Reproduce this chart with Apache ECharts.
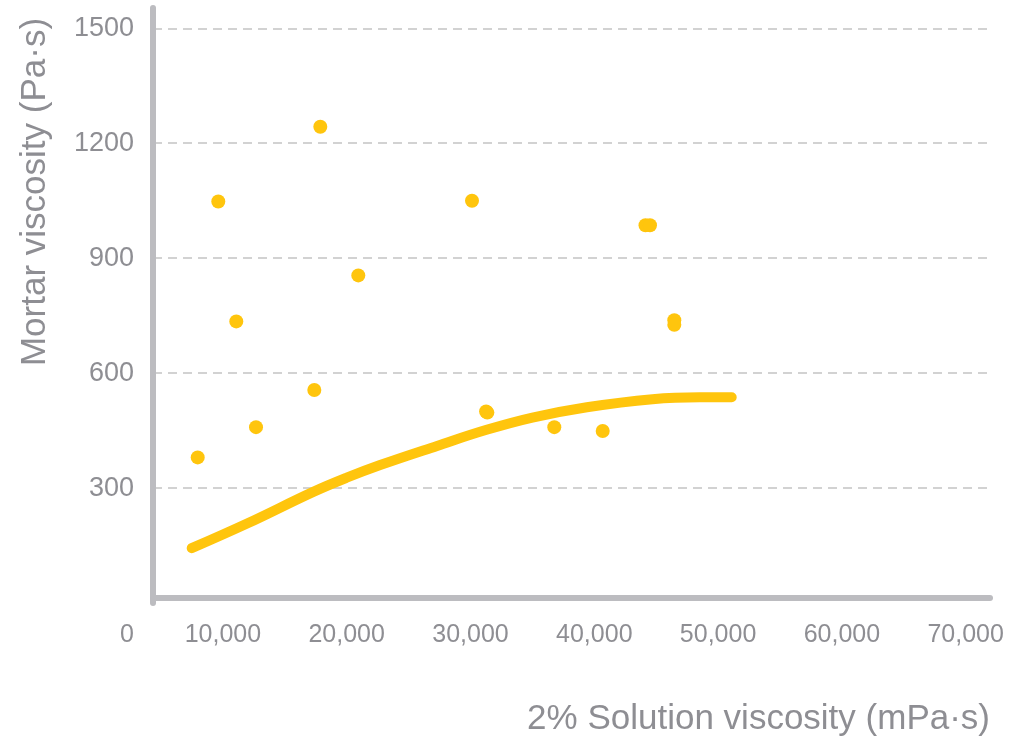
<!DOCTYPE html>
<html>
<head>
<meta charset="utf-8">
<script src="https://cdn.jsdelivr.net/npm/echarts@6/dist/echarts.min.js"></script>
<style>
html,body{margin:0;padding:0;background:#fff;}
#chart{width:1022px;height:740px;}
</style>
</head>
<body>
<div id="chart"></div>
<script>
// Scatter measurements: 2% solution viscosity (mPa·s) vs mortar viscosity (Pa·s)
const scatterX = [7965, 9628, 11082, 12674, 17383, 17868, 20937, 30121, 31260, 31360, 36769, 40679, 44136, 44499, 46462, 46462];
const scatterY = [380, 1048, 735, 459, 556, 1243, 855, 1050, 500, 497, 459, 449, 986, 986, 738, 726];

// Trend curve
const trendX = [7480, 12000, 17300, 20000, 22700, 27300, 31300, 35000, 39400, 44700, 48500, 51100];
const trendY = [143, 208, 290, 327, 360, 410, 452, 484, 511, 532, 537, 537];

// Tick labels
const xTickLabels = [10000, 20000, 30000, 40000, 50000, 60000, 70000];
const yTickLabels = [0, 300, 600, 900, 1200, 1500];
const yGridValues = [300, 600, 900, 1200, 1500];

const xAxisName = '2% Solution viscosity (mPa·s)';
const yAxisName = 'Mortar viscosity (Pa·s)';

const FONT = "'Liberation Sans', Arial, sans-serif";
const TEXT = '#8e8e93';
const AXIS = '#bcbcc0';
const YELLOW = '#FFC50D';

const chart = echarts.init(document.getElementById('chart'), null, {renderer: 'canvas'});
chart.setOption({
  animation: false,
  backgroundColor: '#fff',
  grid: {left: 153, right: 32, top: 8, bottom: 137, containLabel: false},
  xAxis: {
    type: 'value',
    min: 4354,
    max: 71963,
    offset: -5,
    name: xAxisName,
    nameLocation: 'end',
    nameGap: 0,
    nameTextStyle: {
      fontFamily: FONT, fontSize: 35, color: TEXT,
      align: 'right', verticalAlign: 'top', padding: [104, 0, 0, 0]
    },
    axisLine: {show: true, onZero: false, lineStyle: {color: AXIS, width: 6}},
    axisTick: {show: false, customValues: xTickLabels},
    splitLine: {show: false},
    axisLabel: {
      customValues: xTickLabels,
      margin: 25,
      fontFamily: FONT, fontSize: 25, color: TEXT,
      formatter: v => Number(v).toLocaleString('en-US')
    }
  },
  yAxis: {
    type: 'value',
    min: 0,
    max: 1553,
    name: yAxisName,
    nameLocation: 'middle',
    nameGap: 100,
    nameRotate: 90,
    nameTextStyle: {
      fontFamily: FONT, fontSize: 35, color: TEXT,
      padding: [0, 0, 0, 227]
    },
    axisLine: {show: true, onZero: false, lineStyle: {color: AXIS, width: 6}},
    axisTick: {show: false, customValues: yGridValues},
    splitLine: {show: true, lineStyle: {color: '#d2d2d2', width: 2, type: [9, 6]}},
    axisLabel: {
      customValues: yTickLabels,
      margin: 19,
      fontFamily: FONT, fontSize: 27, color: TEXT,
      formatter: v => (v === 0 ? '{z|0}' : String(v)),
      rich: {
        z: {fontFamily: FONT, fontSize: 25, color: TEXT, padding: [64, 0, 0, 0]}
      }
    }
  },
  series: [
    {
      type: 'line',
      data: trendX.map((x, i) => [x, trendY[i]]),
      smooth: 0.4,
      showSymbol: false,
      symbol: 'none',
      lineStyle: {color: YELLOW, width: 10, cap: 'round', join: 'round'},
      z: 2
    },
    {
      type: 'scatter',
      data: scatterX.map((x, i) => [x, scatterY[i]]),
      symbol: 'circle',
      symbolSize: 14,
      itemStyle: {color: YELLOW, opacity: 1},
      z: 3
    }
  ]
});
</script>
</body>
</html>
